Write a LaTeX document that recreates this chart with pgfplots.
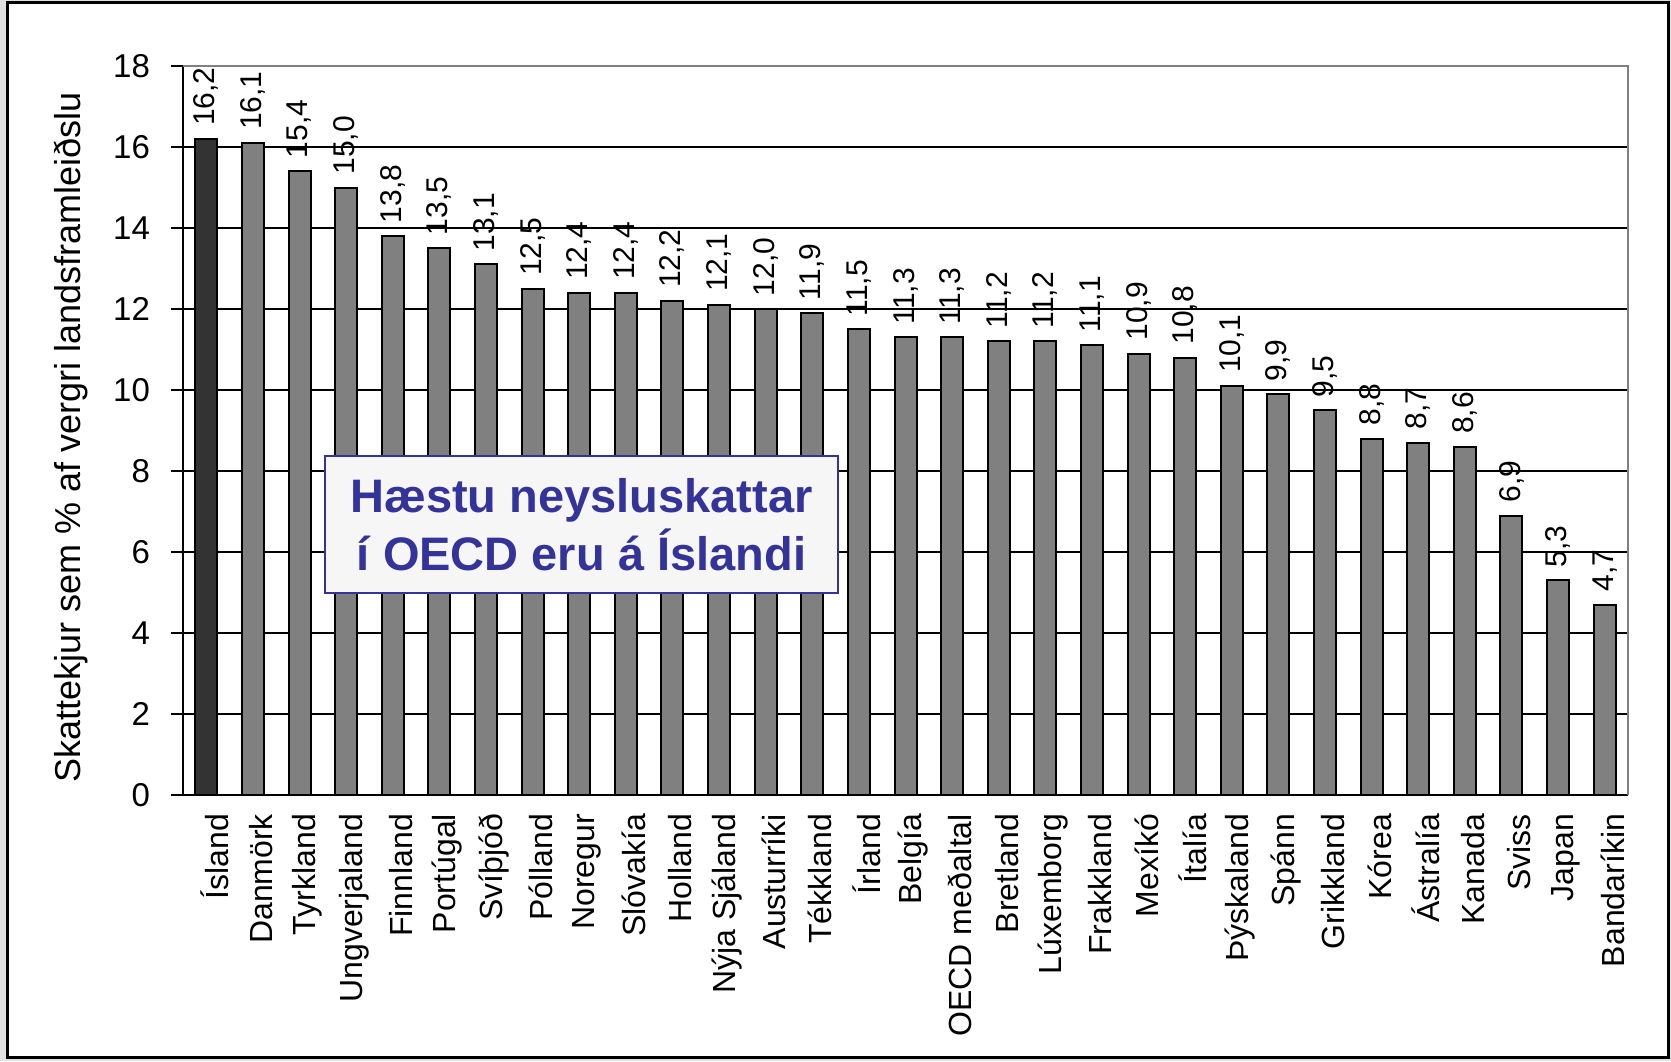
\documentclass[border=0pt]{standalone}
\usepackage{pgfplots}
\pgfplotsset{compat=1.18}
\usepackage{fontspec}
\setmainfont{Liberation Sans}
\definecolor{barg}{RGB}{128,128,128}
\definecolor{bard}{RGB}{51,51,51}
\definecolor{boxblue}{RGB}{51,51,153}
\definecolor{boxfill}{RGB}{246,246,246}
\definecolor{bggray}{RGB}{225,225,225}

\begin{document}
\begin{tikzpicture}
% background and outer frame
\fill[bggray] (-91.5pt,-133pt) rectangle (744pt,397.5pt);
\draw[fill=white, line width=1.5pt] (-87.5pt,-131pt) rectangle (742.5pt,396pt);
\begin{axis}[
    scale only axis,
    width=722.5pt, height=364.5pt,
    ybar, bar width=11pt,
    xmin=-0.5, xmax=30.5,
    ymin=0, ymax=18,
    ytick={0,2,...,18},
    xtick={0,...,30},
    xticklabels={Ísland,Danmörk,Tyrkland,Ungverjaland,Finnland,Portúgal,Svíþjóð,Pólland,Noregur,Slóvakía,Holland,Nýja Sjáland,Austurríki,Tékkland,Írland,Belgía,OECD meðaltal,Bretland,Lúxemborg,Frakkland,Mexíkó,Ítalía,Þýskaland,Spánn,Grikkland,Kórea,Ástralía,Kanada,Sviss,Japan,Bandaríkin},
    xticklabel style={rotate=90, anchor=east, font=\fontsize{16}{18}\selectfont, yshift=-4pt},
    yticklabel style={font=\fontsize{16.5}{18}\selectfont, xshift=-7pt},
    /pgf/number format/assume math mode=true,
    x tick style={draw=none},
    extra x ticks={-0.5,0.5,...,30.5},
    extra x tick labels={},
    extra x tick style={grid=none, major tick length=6pt, tick align=outside, tick style={draw=black, line width=0.8pt}},
    y tick style={black, line width=0.8pt},
    major tick length=6pt, tick align=outside,
    ymajorgrids, grid style={black, line width=0.8pt},
    axis x line*=bottom, axis y line*=left,
    axis line style={black, line width=0.8pt},
    ylabel={Skattekjur sem \% af vergri landsframleiðslu},
    ylabel style={font=\fontsize{18}{20}\selectfont, at={(rel axis cs:0,0.5)}, anchor=south, inner sep=0pt, yshift=47.5pt, xshift=-3.5pt},
    clip=false,
    nodes near coords={\pgfmathprintnumber[fixed,fixed zerofill,precision=1,use comma]{\pgfplotspointmeta}},
    every node near coord/.append style={rotate=90, anchor=west, font=\fontsize{15}{16}\selectfont, inner sep=1pt, xshift=5pt},
]
\addplot[fill=bard, draw=black, line width=1pt, bar shift=0pt] coordinates {(0,16.2)};
\addplot[fill=barg, draw=black, line width=1pt, bar shift=0pt] coordinates {
(1,16.1) (2,15.4) (3,15.0) (4,13.8) (5,13.5) (6,13.1) (7,12.5) (8,12.4) (9,12.4) (10,12.2)
(11,12.1) (12,12.0) (13,11.9) (14,11.5) (15,11.3) (16,11.3) (17,11.2) (18,11.2) (19,11.1) (20,10.9)
(21,10.8) (22,10.1) (23,9.9) (24,9.5) (25,8.8) (26,8.7) (27,8.6) (28,6.9) (29,5.3) (30,4.7)
};
\draw[gray, line width=0.8pt] (rel axis cs:0,1) -- (rel axis cs:1,1) -- (rel axis cs:1,0);
\node[draw=boxblue, fill=boxfill, text=boxblue, line width=0.8pt, align=center,
      minimum width=256.5pt, minimum height=68.5pt, inner sep=2pt,
      font=\bfseries\fontsize{23.5}{29}\selectfont] at (axis cs:8.05,6.68)
      {Hæstu neysluskattar\\í OECD eru á Íslandi};
\end{axis}
\end{tikzpicture}
\end{document}
